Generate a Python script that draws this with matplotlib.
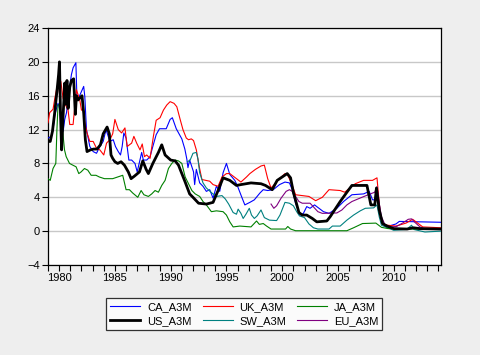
import matplotlib
matplotlib.use("Agg")
import matplotlib.pyplot as plt
from matplotlib.ticker import MultipleLocator

# ---- data (year fraction, 3-month rate %) ----
ca_t = [1979.0, 1979.3, 1979.45, 1979.6, 1979.76, 1979.9, 1980.06, 1980.2, 1980.36, 1980.5, 1980.66, 1980.8,
        1980.95, 1981.1, 1981.25, 1981.5, 1981.6, 1981.8, 1982.0, 1982.2, 1982.3, 1982.45, 1982.6, 1982.75,
        1983.05, 1983.35, 1983.65, 1983.95, 1984.2, 1984.55, 1984.85, 1985.05, 1985.3, 1985.5, 1985.65, 1985.8,
        1986.0, 1986.25, 1986.5, 1986.8, 1987.0, 1987.4, 1987.55, 1987.85, 1988.15, 1988.4, 1988.7, 1989.0,
        1989.6, 1989.95, 1990.15, 1990.5, 1991.0, 1991.27, 1991.45, 1991.55, 1991.7, 1991.9, 1992.05, 1992.15,
        1992.3, 1992.6, 1992.9, 1993.2, 1993.5, 1993.8, 1994.1, 1994.4, 1994.7, 1995.0, 1995.3, 1995.75,
        1996.0, 1996.35, 1996.65, 1997.1, 1997.5, 1998.0, 1998.3, 1998.7, 1999.2, 1999.76, 2000.25, 2000.65,
        2000.9, 2001.2, 2001.6, 2001.9, 2002.2, 2002.5, 2002.9, 2003.3, 2003.7, 2004.2, 2004.9, 2005.5,
        2006.25, 2007.3, 2007.8, 2008.1, 2008.35, 2008.5, 2008.7, 2009.0, 2009.3, 2010.2, 2010.5, 2014.2]
ca_v = [11.0, 11.2, 12.0, 13.6, 14.5, 15.1, 14.3, 12.0, 11.8, 13.2, 14.0, 15.5,
        17.1, 18.5, 19.3, 19.9, 15.5, 15.9, 16.5, 17.1, 15.9, 12.0, 11.0, 10.0,
        9.4, 9.2, 10.0, 10.6, 12.0, 10.6, 10.8, 10.0, 9.4, 9.0, 10.0, 11.6,
        11.0, 8.4, 8.4, 8.0, 7.0, 9.3, 8.4, 8.4, 8.8, 10.0, 11.4, 12.1,
        12.1, 13.2, 13.4, 12.1, 10.9, 9.7, 8.5, 7.5, 8.4, 7.6, 7.0, 5.5,
        7.3, 5.7, 5.3, 4.7, 4.9, 3.9, 5.3, 4.7, 6.9, 8.0, 6.7, 6.0,
        5.3, 4.1, 3.1, 3.4, 3.7, 4.5, 4.9, 4.8, 4.9, 5.5, 5.8, 5.7,
        4.9, 3.3, 1.9, 2.1, 2.9, 2.7, 3.1, 2.7, 2.3, 2.1, 2.7, 3.5,
        4.3, 4.4, 4.7, 3.7, 3.7, 4.9, 2.7, 0.9, 0.5, 0.85, 1.15, 1.05]

uk_t = [1979.0, 1979.15, 1979.45, 1979.6, 1979.8, 1979.95, 1980.05, 1980.15, 1980.35, 1980.5, 1980.8, 1980.95,
        1981.25, 1981.4, 1981.55, 1981.7, 1981.85, 1982.0, 1982.15, 1982.3, 1982.5, 1982.75, 1983.05, 1983.35,
        1983.65, 1984.0, 1984.25, 1984.55, 1984.8, 1985.0, 1985.3, 1985.6, 1985.9, 1986.1, 1986.5, 1986.7,
        1986.95, 1987.25, 1987.45, 1987.65, 1987.85, 1988.15, 1988.45, 1988.7, 1989.05, 1989.35, 1989.65, 1989.95,
        1990.3, 1990.55, 1990.85, 1991.1, 1991.4, 1991.6, 1991.85, 1992.05, 1992.3, 1992.55, 1992.8, 1993.5,
        1993.8, 1994.25, 1994.6, 1995.0, 1995.3, 1995.9, 1996.3, 1996.8, 1997.1, 1997.6, 1998.1, 1998.4,
        1998.7, 1999.0, 1999.5, 1999.76, 2000.25, 2000.5, 2000.85, 2001.2, 2002.4, 2003.0, 2003.6, 2004.2,
        2005.2, 2005.6, 2006.55, 2007.3, 2008.1, 2008.5, 2008.7, 2008.85, 2009.1, 2010.2, 2011.1, 2011.7,
        2012.1, 2012.6, 2014.2]
uk_v = [12.8, 14.0, 14.4, 15.6, 17.0, 17.5, 16.0, 17.7, 15.7, 15.1, 14.3, 12.6,
        12.6, 14.7, 16.7, 16.1, 15.5, 14.3, 14.3, 12.8, 11.6, 10.6, 10.6, 9.8,
        9.6, 9.0, 10.4, 10.8, 11.5, 13.2, 12.0, 11.6, 12.2, 10.0, 10.4, 11.2,
        10.4, 9.6, 10.3, 8.8, 9.0, 8.6, 11.2, 13.1, 13.4, 14.3, 14.9, 15.3,
        15.1, 14.7, 13.2, 12.0, 11.0, 10.8, 10.9, 10.7, 9.6, 7.7, 6.1, 5.9,
        5.5, 5.3, 6.4, 6.8, 6.8, 6.2, 5.8, 6.4, 6.8, 7.3, 7.7, 7.8,
        6.2, 5.1, 5.8, 6.2, 6.8, 6.6, 5.6, 4.3, 4.1, 3.6, 4.0, 4.9,
        4.8, 4.6, 5.6, 6.0, 6.0, 6.3, 3.3, 1.5, 0.75, 0.6, 0.95, 1.4,
        1.0, 0.5, 0.4]

ja_t = [1979.0, 1979.2, 1979.45, 1979.7, 1979.8, 1979.9, 1980.05, 1980.18, 1980.33, 1980.48, 1980.63, 1980.93,
        1981.22, 1981.52, 1981.76, 1981.97, 1982.27, 1982.57, 1982.87, 1983.3, 1983.6, 1984.06, 1984.8, 1985.25,
        1985.7, 1986.0, 1986.3, 1986.6, 1987.05, 1987.35, 1987.6, 1988.0, 1988.3, 1988.6, 1988.9, 1989.2,
        1989.5, 1989.8, 1990.1, 1990.4, 1990.7, 1991.0, 1991.3, 1991.6, 1991.9, 1992.2, 1992.6, 1992.9,
        1993.2, 1993.65, 1994.1, 1994.7, 1995.0, 1995.3, 1995.6, 1996.2, 1997.2, 1997.7, 1997.95, 1998.3,
        1998.6, 1999.0, 2000.3, 2000.5, 2000.75, 2001.2, 2005.8, 2006.4, 2007.2, 2008.4, 2008.9, 2009.5,
        2014.2]
ja_v = [6.2, 6.0, 7.4, 8.0, 12.0, 14.9, 15.0, 13.6, 11.6, 9.6, 8.8, 8.0,
        7.8, 7.6, 6.8, 7.0, 7.4, 7.2, 6.6, 6.6, 6.4, 6.2, 6.2, 6.4,
        6.6, 4.9, 4.9, 4.5, 4.0, 4.8, 4.3, 4.1, 4.4, 4.8, 4.6, 5.4,
        6.0, 7.4, 8.0, 8.4, 8.3, 8.0, 6.4, 5.6, 4.8, 4.4, 4.1, 3.5,
        3.1, 2.3, 2.4, 2.3, 1.9, 1.1, 0.5, 0.6, 0.5, 1.2, 0.8, 0.9,
        0.6, 0.25, 0.25, 0.55, 0.25, 0.05, 0.05, 0.4, 0.9, 0.95, 0.45, 0.3,
        0.2]

us_t = [1979.0, 1979.2, 1979.4, 1979.6, 1979.8, 1979.95, 1980.03, 1980.12, 1980.22, 1980.35, 1980.5, 1980.6,
        1980.7, 1980.8, 1980.95, 1981.1, 1981.3, 1981.45, 1981.55, 1981.7, 1981.9, 1982.05, 1982.2, 1982.35,
        1982.5, 1982.8, 1983.1, 1983.4, 1983.7, 1983.95, 1984.3, 1984.5, 1984.65, 1984.8, 1985.0, 1985.25,
        1985.55, 1985.85, 1986.2, 1986.45, 1986.75, 1987.2, 1987.5, 1987.8, 1988.0, 1988.4, 1988.9, 1989.2,
        1989.5, 1990.0, 1990.4, 1990.7, 1991.3, 1991.7, 1992.0, 1992.5, 1993.2, 1993.8, 1994.25, 1994.7,
        1995.3, 1995.9, 1996.3, 1997.2, 1998.1, 1998.5, 1999.1, 1999.55, 2000.0, 2000.45, 2000.75, 2001.0,
        2001.5, 2001.8, 2002.2, 2002.7, 2003.1, 2004.0, 2004.3, 2005.2, 2005.8, 2006.25, 2007.6, 2007.95,
        2008.3, 2008.45, 2008.7, 2009.0, 2009.4, 2010.0, 2011.2, 2011.75, 2012.35, 2014.2]
us_v = [10.6, 10.6, 11.8, 14.0, 16.5, 18.5, 20.0, 14.0, 9.6, 13.5, 17.5, 15.0,
        17.8, 14.5, 17.0, 17.8, 18.0, 13.8, 16.0, 15.5, 15.8, 16.0, 14.0, 10.8,
        9.4, 9.6, 9.7, 9.7, 10.2, 11.5, 12.3, 11.5, 9.0, 8.6, 8.2, 8.0,
        8.2, 7.8, 7.0, 6.2, 6.5, 7.0, 8.3, 7.3, 6.8, 8.0, 9.3, 10.2,
        9.0, 8.4, 8.3, 7.8, 5.8, 4.4, 4.0, 3.3, 3.2, 3.4, 4.8, 6.3,
        6.0, 5.4, 5.5, 5.7, 5.6, 5.4, 4.9, 6.0, 6.4, 6.8, 6.3, 4.6,
        2.2, 1.9, 1.9, 1.5, 1.1, 1.2, 1.7, 3.5, 4.6, 5.4, 5.4, 3.1,
        3.1, 5.1, 2.5, 0.9, 0.6, 0.3, 0.25, 0.4, 0.3, 0.25]

sw_t = [1991.5, 1991.75, 1992.0, 1992.3, 1992.45, 1992.6, 1992.9, 1993.2, 1993.7, 1994.1, 1994.6, 1994.9,
        1995.2, 1995.6, 1995.9, 1996.05, 1996.3, 1996.5, 1996.75, 1997.05, 1997.25, 1997.5, 1997.75, 1998.1,
        1998.4, 1998.86, 1999.5, 1999.8, 2000.25, 2000.65, 2001.0, 2001.3, 2001.55, 2002.0, 2002.4, 2002.8,
        2003.2, 2004.2, 2004.5, 2005.2, 2005.8, 2006.4, 2007.0, 2007.45, 2008.2, 2008.5, 2008.7, 2008.9,
        2009.35, 2010.0, 2011.15, 2011.6, 2011.8, 2012.8, 2014.2]
sw_v = [8.2, 8.4, 9.2, 9.3, 8.5, 6.9, 5.7, 5.1, 4.5, 4.1, 4.2, 3.8,
        3.2, 2.2, 2.0, 2.6, 2.1, 1.5, 2.0, 2.7, 1.9, 1.5, 1.8, 2.5,
        1.6, 1.3, 1.25, 1.9, 3.4, 3.3, 3.0, 2.3, 1.8, 1.6, 0.85, 0.4,
        0.25, 0.25, 0.6, 0.6, 1.3, 1.9, 2.4, 2.7, 2.75, 3.1, 1.7, 0.7,
        0.45, 0.1, 0.2, 0.7, 0.2, -0.1, 0.0]

eu_t = [1999.0, 1999.25, 1999.5, 1999.9, 2000.35, 2000.65, 2000.9, 2001.2, 2001.5, 2001.8, 2002.1, 2002.5,
        2002.85, 2003.2, 2003.6, 2004.9, 2005.35, 2005.8, 2006.25, 2007.15, 2007.9, 2008.3, 2008.5, 2008.7,
        2008.9, 2009.2, 2009.65, 2010.25, 2010.85, 2011.3, 2011.6, 2011.85, 2012.35, 2012.95, 2014.2]
eu_v = [3.2, 2.7, 3.0, 3.9, 4.7, 4.9, 4.7, 4.1, 3.5, 3.3, 3.3, 3.3,
        2.8, 2.3, 2.1, 2.15, 2.5, 3.1, 3.5, 4.0, 4.4, 4.6, 5.25, 3.3,
        1.7, 0.8, 0.5, 0.55, 1.0, 1.4, 1.45, 1.1, 0.5, 0.2, 0.25]

y_ticks = [-4, 0, 4, 8, 12, 16, 20, 24]
x_ticks = [1980, 1985, 1990, 1995, 2000, 2005, 2010]

plt.rcParams['font.family'] = ['Liberation Sans', 'DejaVu Sans']

fig = plt.figure(figsize=(4.8, 3.55), dpi=100, facecolor='#eeeeee')
ax = fig.add_axes([0.1, 0.2535, 0.819, 0.6676])
ax.set_facecolor('white')

thin = 0.8
ax.plot(ca_t, ca_v, color='#0000ff', lw=thin, label='CA_A3M', zorder=3)
ax.plot(us_t, us_v, color='black', lw=2.0, label='US_A3M', zorder=4)
ax.plot(uk_t, uk_v, color='#ff0000', lw=thin, label='UK_A3M', zorder=3)
ax.plot(sw_t, sw_v, color='#008080', lw=thin, label='SW_A3M', zorder=3)
ax.plot(ja_t, ja_v, color='#008000', lw=thin, label='JA_A3M', zorder=3)
ax.plot(eu_t, eu_v, color='#800080', lw=thin, label='EU_A3M', zorder=3)

ax.set_xlim(1979.0, 2014.25)
ax.set_ylim(-4, 24)
ax.set_yticks(y_ticks)
ax.set_xticks(x_ticks)
ax.xaxis.set_minor_locator(MultipleLocator(1))
ax.grid(axis='y', color='#c8c8c8', lw=1.0, zorder=1)
ax.tick_params(axis='y', direction='out', length=4, width=0.8, labelsize=8, pad=2)
ax.tick_params(axis='x', which='both', direction='out', length=4, width=0.8, labelsize=8, pad=2)
for s in ax.spines.values():
    s.set_linewidth(0.9)

leg = fig.legend(loc='center', bbox_to_anchor=(0.509, 0.1155), ncol=3, frameon=True,
                 fancybox=False, edgecolor='black', facecolor='white', fontsize=8,
                 handlelength=2.7, columnspacing=1.0, handletextpad=0.6,
                 borderpad=0.35, labelspacing=0.35)
leg.get_frame().set_linewidth(0.9)

fig.savefig('out.png', dpi=100, facecolor=fig.get_facecolor())
